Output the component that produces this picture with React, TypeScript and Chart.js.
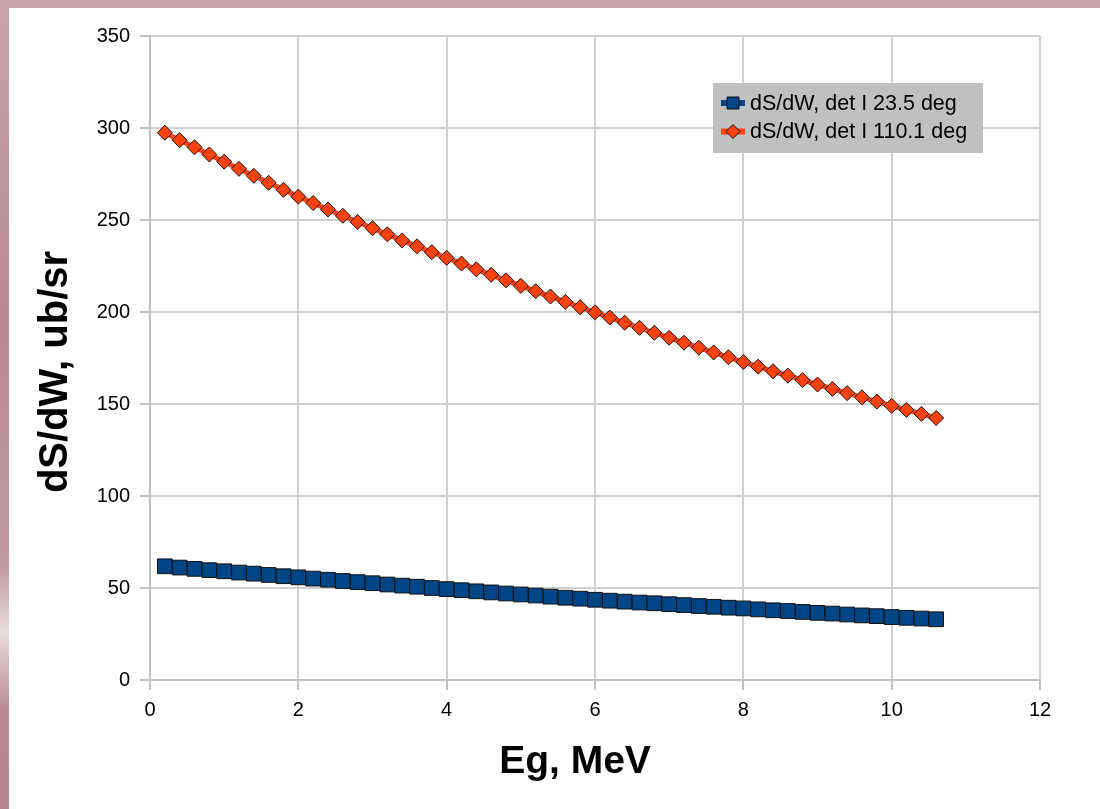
import { useEffect, useRef } from "react";
import { Chart, registerables } from "chart.js";

Chart.register(...registerables);

const energyMeV = [
  0.2, 0.4, 0.6, 0.8, 1.0, 1.2, 1.4, 1.6, 1.8, 2.0,
  2.2, 2.4, 2.6, 2.8, 3.0, 3.2, 3.4, 3.6, 3.8, 4.0,
  4.2, 4.4, 4.6, 4.8, 5.0, 5.2, 5.4, 5.6, 5.8, 6.0,
  6.2, 6.4, 6.6, 6.8, 7.0, 7.2, 7.4, 7.6, 7.8, 8.0,
  8.2, 8.4, 8.6, 8.8, 9.0, 9.2, 9.4, 9.6, 9.8, 10.0,
  10.2, 10.4, 10.6,
];

const det23 = [
  61.8, 61.1, 60.4, 59.7, 59.1, 58.4, 57.8, 57.1, 56.4, 55.8,
  55.1, 54.5, 53.8, 53.2, 52.6, 51.9, 51.3, 50.7, 50.0, 49.4,
  48.8, 48.2, 47.6, 47.0, 46.5, 45.9, 45.3, 44.7, 44.2, 43.6,
  43.1, 42.6, 42.1, 41.7, 41.2, 40.7, 40.2, 39.8, 39.3, 38.9,
  38.4, 37.9, 37.5, 37.0, 36.5, 36.1, 35.6, 35.1, 34.7, 34.2,
  33.8, 33.4, 33.0,
];

const det110 = [
  297.4, 293.4, 289.5, 285.6, 281.7, 277.8, 274.0, 270.2, 266.4, 262.7,
  259.2, 255.7, 252.3, 248.9, 245.5, 242.2, 238.9, 235.7, 232.5, 229.4,
  226.3, 223.2, 220.2, 217.2, 214.2, 211.3, 208.4, 205.5, 202.6, 199.8,
  197.0, 194.2, 191.4, 188.7, 186.0, 183.3, 180.6, 178.0, 175.4, 172.8,
  170.3, 167.8, 165.4, 163.0, 160.6, 158.2, 155.9, 153.6, 151.3, 149.0,
  146.8, 144.6, 142.4,
];

const seriesLabels = ["dS/dW, det I 23.5 deg", "dS/dW, det I 110.1 deg"];
const xTitle = "Eg, MeV";
const yTitle = "dS/dW, ub/sr";

const BLUE = "#004586";
const RED = "#ff420e";
const FONT = '"Liberation Sans", Arial, Helvetica, sans-serif';

const decorPlugin = {
  id: "decor",
  afterDraw(chart: any) {
    const ctx: CanvasRenderingContext2D = chart.ctx;
    ctx.save();
    ctx.fillStyle = "#000";
    ctx.font = `bold 39px ${FONT}`;
    ctx.textAlign = "center";
    ctx.textBaseline = "alphabetic";
    ctx.fillText(xTitle, 575, 773);
    ctx.save();
    ctx.translate(67, 372);
    ctx.rotate(-Math.PI / 2);
    ctx.font = `bold 40px ${FONT}`;
    ctx.fillText(yTitle, 0, 0);
    ctx.restore();

    // legend
    ctx.fillStyle = "#c0c0c0";
    ctx.fillRect(713, 83, 270, 70);
    const rows = [
      { y: 103, color: BLUE, shape: "rect", text: seriesLabels[0] },
      { y: 131.5, color: RED, shape: "diamond", text: seriesLabels[1] },
    ];
    for (const r of rows) {
      ctx.strokeStyle = r.color;
      ctx.lineWidth = 6;
      ctx.beginPath();
      ctx.moveTo(721, r.y);
      ctx.lineTo(745, r.y);
      ctx.stroke();
      ctx.fillStyle = r.color;
      ctx.strokeStyle = "#111";
      ctx.lineWidth = 1;
      ctx.beginPath();
      if (r.shape === "rect") {
        ctx.rect(727, r.y - 6, 12, 12);
      } else {
        ctx.moveTo(733, r.y - 7);
        ctx.lineTo(740, r.y);
        ctx.lineTo(733, r.y + 7);
        ctx.lineTo(726, r.y);
        ctx.closePath();
      }
      ctx.fill();
      ctx.stroke();
      ctx.fillStyle = "#000";
      ctx.font = `21.5px ${FONT}`;
      ctx.textAlign = "left";
      ctx.textBaseline = "middle";
      ctx.fillText(r.text, 750, r.y + 1);
    }
    ctx.restore();
  },
};

export default function App() {
  const ref = useRef<HTMLCanvasElement>(null);

  useEffect(() => {
    if (!ref.current) return;
    const gridOpts = {
      color: "#d0d0d0",
      lineWidth: 2,
      drawTicks: true,
      tickLength: 10,
      tickColor: "#c0c0c0",
      tickWidth: 2,
    };
    const chart = new Chart(ref.current, {
      type: "scatter",
      data: {
        datasets: [
          {
            label: seriesLabels[0],
            data: energyMeV.map((x, i) => ({ x, y: det23[i] })),
            showLine: true,
            borderColor: BLUE,
            borderWidth: 5,
            backgroundColor: BLUE,
            pointBackgroundColor: BLUE,
            pointBorderColor: "#111",
            pointBorderWidth: 1,
            pointStyle: "rect",
            pointRadius: 10.4,
            pointHoverRadius: 10.4,
          },
          {
            label: seriesLabels[1],
            data: energyMeV.map((x, i) => ({ x, y: det110[i] })),
            showLine: true,
            borderColor: RED,
            borderWidth: 5,
            backgroundColor: RED,
            pointBackgroundColor: RED,
            pointBorderColor: "#111",
            pointBorderWidth: 1,
            pointStyle: "rectRot",
            pointRadius: 7.5,
            pointHoverRadius: 7.5,
          },
        ],
      },
      options: {
        animation: false,
        responsive: false,
        devicePixelRatio: 1,
        layout: { padding: { left: 0, top: 36, right: 60, bottom: 0 } },
        plugins: {
          legend: { display: false },
          tooltip: { enabled: false },
          title: { display: false },
        },
        scales: {
          x: {
            type: "linear",
            min: 0,
            max: 12,
            ticks: {
              stepSize: 2,
              color: "#000",
              font: { family: FONT, size: 20 },
              padding: 8,
              maxRotation: 0,
            },
            grid: gridOpts,
            border: { display: true, color: "#c0c0c0", width: 2 },
            afterFit: (s: any) => {
              s.height = 129;
            },
          },
          y: {
            type: "linear",
            min: 0,
            max: 350,
            ticks: {
              stepSize: 50,
              color: "#000",
              font: { family: FONT, size: 20 },
              padding: 10,
            },
            grid: gridOpts,
            border: { display: true, color: "#c0c0c0", width: 2 },
            afterFit: (s: any) => {
              s.width = 150;
            },
          },
        },
      },
      plugins: [decorPlugin],
    } as any);
    return () => chart.destroy();
  }, []);

  return (
    <div
      style={{
        position: "fixed",
        left: 0,
        top: 0,
        width: 1100,
        height: 809,
        background: "linear-gradient(180deg, #c9a4a8 0%, #b7898e 40%, #c29a9e 70%, #e8dcdc 78%, #b88a8f 88%, #b3868b 100%)",
        overflow: "hidden",
      }}
    >
      <div
        style={{
          position: "absolute",
          left: 9,
          top: 8,
          width: 1091,
          height: 801,
          background: "#ffffff",
        }}
      />
      <canvas
        ref={ref}
        width={1100}
        height={809}
        style={{ position: "absolute", left: 0, top: 0, width: 1100, height: 809 }}
      />
    </div>
  );
}
